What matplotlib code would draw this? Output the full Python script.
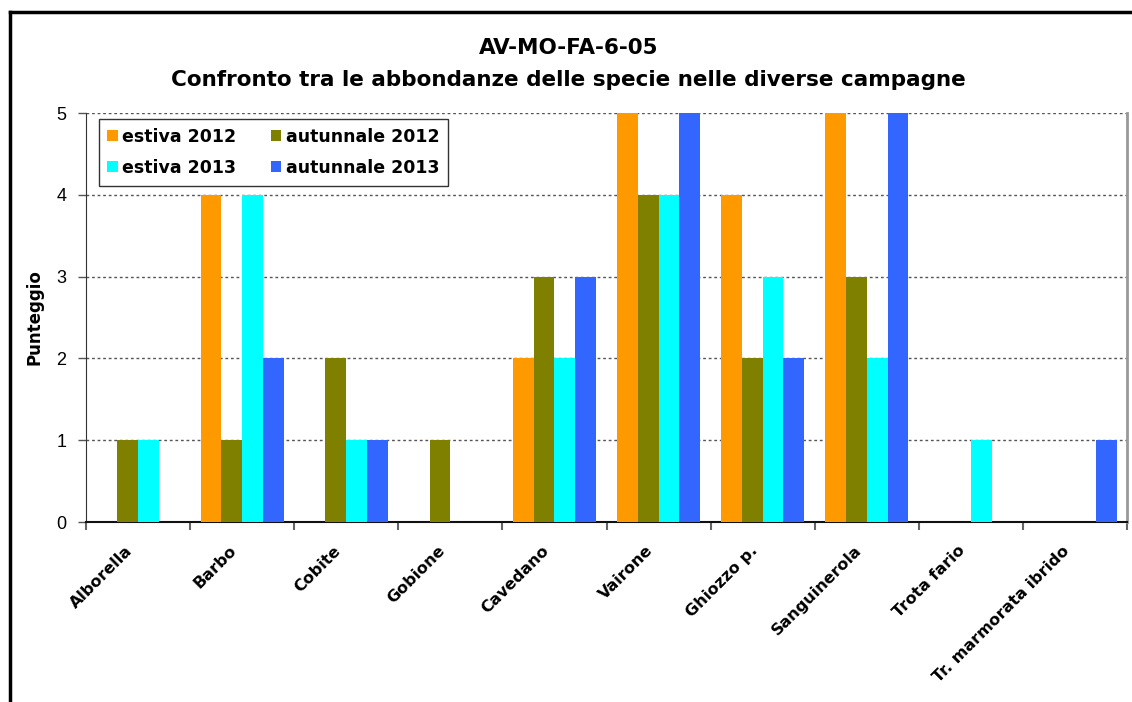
import numpy as np
import matplotlib.pyplot as plt
import matplotlib.transforms as mtransforms
from matplotlib.lines import Line2D

plt.rcParams['font.family'] = ['DejaVu Sans']

# Species and scores for each sampling campaign
species = ['Alborella', 'Barbo', 'Cobite', 'Gobione', 'Cavedano', 'Vairone',
           'Ghiozzo p.', 'Sanguinerola', 'Trota fario', 'Tr. marmorata ibrido']
estiva_2012 = [0, 4, 0, 0, 2, 5, 4, 5, 0, 0]
autunnale_2012 = [1, 1, 2, 1, 3, 4, 2, 3, 0, 0]
estiva_2013 = [1, 4, 1, 0, 2, 4, 3, 2, 1, 0]
autunnale_2013 = [0, 2, 1, 0, 3, 5, 2, 5, 0, 1]

series = [
    ('estiva 2012', estiva_2012, '#FF9900'),
    ('autunnale 2012', autunnale_2012, '#808000'),
    ('estiva 2013', estiva_2013, '#00FFFF'),
    ('autunnale 2013', autunnale_2013, '#3366FF'),
]

fig = plt.figure(figsize=(11.32, 7.02), dpi=100)
ax = fig.add_axes([0.076, 0.2564, 0.9196, 0.5826])

x = np.arange(len(species))
w = 0.2
bars = []
for i, (name, vals, col) in enumerate(series):
    bars.append(ax.bar(x + (i - 1.5) * w, vals, width=w, color=col, label=name, zorder=3))

ax.set_xlim(-0.5, len(species) - 0.5)
ax.set_ylim(0, 5)
ax.set_yticks(range(6))
ax.set_yticklabels([str(v) for v in range(6)], family='Liberation Sans')
ax.tick_params(axis='y', labelsize=13, length=6, width=1, color='#555555', pad=8)
ax.set_xticks(np.arange(len(species) + 1) - 0.5, minor=False)
ax.set_xticklabels([])
ax.set_xticks(x, minor=True)
ax.set_xticklabels(species, minor=True, rotation=45, ha='right',
                   rotation_mode='anchor', fontsize=11.5, fontweight='bold')
ax.tick_params(axis='x', which='major', length=6, width=1.5, color='#666666')
ax.tick_params(axis='x', which='minor', length=0, pad=15)

# nudge the slanted labels a little to the left of the category centre
shift = mtransforms.ScaledTranslation(-13 / 100, 0, fig.dpi_scale_trans)
for lab in ax.get_xticklabels(minor=True):
    lab.set_transform(lab.get_transform() + shift)

for y in range(1, 6):
    ax.axhline(y, color='#555555', linestyle=(0, (2, 2)), linewidth=1, zorder=1)

ax.spines['top'].set_visible(False)
ax.spines['left'].set_color('#333333')
ax.spines['right'].set_color('#999999')
ax.spines['right'].set_linewidth(2)
ax.spines['bottom'].set_color('#111111')
ax.spines['bottom'].set_linewidth(1.5)

ax.set_ylabel('Punteggio', fontsize=12, fontweight='bold', labelpad=9)

fig.text(0.502, 0.931, 'AV-MO-FA-6-05', ha='center', va='center',
         fontsize=15.5, fontweight='bold')
fig.text(0.502, 0.886, 'Confronto tra le abbondanze delle specie nelle diverse campagne',
         ha='center', va='center', fontsize=15.5, fontweight='bold')

# legend filled row by row: 2012 on top, 2013 below
order = [0, 2, 1, 3]
leg = ax.legend([bars[i] for i in order], [series[i][0] for i in order],
                ncol=2, loc='upper left', bbox_to_anchor=(0.012, 0.985),
                prop={'weight': 'bold', 'size': 12.5}, frameon=True, fancybox=False,
                edgecolor='black', handlelength=0.6, handleheight=0.6,
                handletextpad=0.25, columnspacing=2.0, borderpad=0.5,
                labelspacing=0.75, borderaxespad=0)
leg.get_frame().set_linewidth(1)

# outer chart frame
fig.add_artist(Line2D([10 / 1132, 1.0], [1 - 12 / 702, 1 - 12 / 702],
                      color='black', linewidth=2.5, transform=fig.transFigure))
fig.add_artist(Line2D([10 / 1132, 10 / 1132], [0.0, 1 - 12 / 702],
                      color='black', linewidth=2.5, transform=fig.transFigure))

fig.savefig('out.png', dpi=100)
